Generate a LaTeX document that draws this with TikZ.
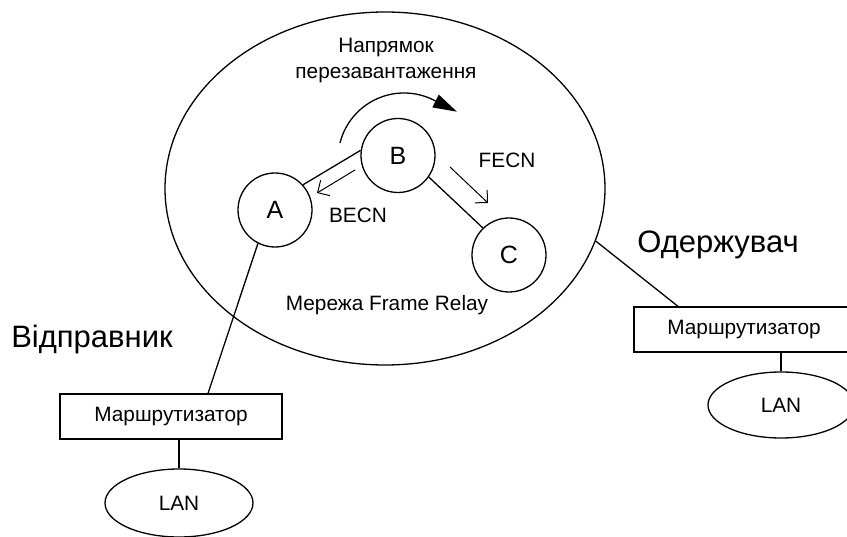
\documentclass[tikz,border=0pt]{standalone}
\usepackage{fontspec}
\setmainfont{Liberation Sans}
\usetikzlibrary{shapes.geometric,arrows.meta}
\begin{document}
\begin{tikzpicture}[x=1pt,y=-1pt,
  line width=1.3pt,
  every node/.style={inner sep=0pt},
  txt/.style={font=\fontsize{20.8}{26}\selectfont},
  bigtxt/.style={font=\fontsize{31}{36}\selectfont},
  station/.style={circle,draw,minimum size=74pt,font=\fontsize{25}{30}\selectfont},
  router/.style={rectangle,draw,minimum width=222pt,minimum height=45pt,txt},
  lan/.style={ellipse,draw,minimum width=148pt,minimum height=68pt,txt},
  notice/.style={line width=1pt,-{Straight Barb[length=9pt,width=18pt]}},
]
\useasboundingbox (0,0) rectangle (847,537);

% Frame Relay cloud
\node[ellipse,draw,minimum width=440pt,minimum height=353pt] (net) at (385,188.5) {};

% switches inside the network
\node[station] (A) at (275,210) {A};
\node[station] (B) at (398,155.5) {B};
\node[station] (C) at (509,255) {C};

% routers and LANs
\node[router] (Lr) at (171,416.5) {Маршрутизатор};
\node[lan] (Llan) at (179,503) {LAN};
\node[router,minimum width=220pt] (Rr) at (744,329.5) {Маршрутизатор};
\node[lan,minimum width=146pt,minimum height=66pt] (Rlan) at (781,405) {LAN};

% labels
\node[txt,align=center] (dir) at (386,61) {Напрямок\\перезавантаження};
\node[txt,anchor=base] (becn) at (358,223) {BECN};
\node[txt,anchor=base] (fecn) at (507,168) {FECN};
\node[txt,anchor=base] (frl) at (387,311) {Мережа Frame Relay};
\node[bigtxt,anchor=base] (snd) at (92,348) {Відправник};
\node[bigtxt,anchor=base] (rcv) at (718,253) {Одержувач};

% links
\draw (A.42) -- (B.172);
\draw (B.-35) -- (C.134);
\draw (A.243) -- ([xshift=37pt]Lr.north);
\draw (net.-14) -- ([xshift=-66pt]Rr.north);
\draw ([xshift=8pt]Lr.south) -- (Llan.north);
\draw ([xshift=37pt]Rr.south) -- (Rlan.north);

% congestion notifications
\coordinate (becn-s) at (355,170);
\coordinate (becn-e) at (317,193);
\coordinate (fecn-s) at (450,167);
\coordinate (fecn-e) at (488,203);
\draw[notice] (becn-s) -- (becn-e);
\draw[notice] (fecn-s) -- (fecn-e);

% direction of the load
\coordinate (turn) at (404,159);
\draw[-{Triangle[length=24pt,width=14pt]}] ([shift={(-166:66)}]turn)
  arc[start angle=-166,end angle=-62,radius=66] -- ++(22,11);
\end{tikzpicture}
\end{document}
